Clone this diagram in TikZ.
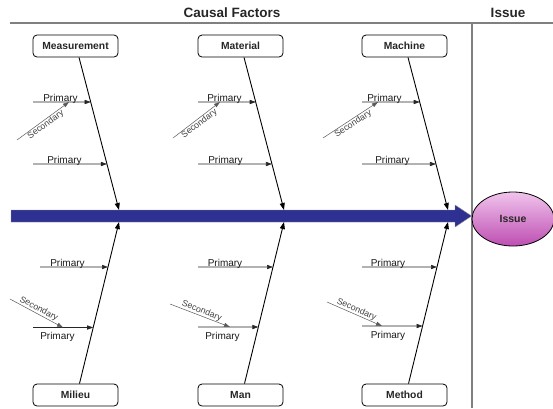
\documentclass[tikz,border=0pt]{standalone}
\usepackage{fontspec}
\setmainfont{Liberation Sans}
\usetikzlibrary{arrows.meta,shapes.geometric}
\definecolor{spineblue}{RGB}{46,49,146}
\definecolor{pinktop}{RGB}{240,196,236}
\definecolor{pinkbot}{RGB}{190,78,178}
\definecolor{rulegray}{RGB}{128,128,128}
\begin{document}
\begin{tikzpicture}[x=1pt,y=-1pt,
  catbox/.style={draw, rounded corners=4pt, line width=0.8pt, minimum width=85pt, minimum height=22pt, inner sep=0pt, font=\fontsize{10.3}{12}\selectfont\bfseries, text=black!85},
  hdr/.style={font=\fontsize{13.5}{16}\selectfont\bfseries, text=black!85, inner sep=0pt},
  bone/.style={line width=0.9pt, -{Triangle[length=7pt,width=5pt]}},
  prim/.style={draw=black!85, line width=0.6pt, -{Triangle[length=6pt,width=4.2pt]}},
  sec/.style={draw=black!65, line width=0.5pt, -{Triangle[length=6pt,width=4pt]}},
  plab/.style={font=\fontsize{10}{12}\selectfont, text=black!90, inner sep=0pt},
  slab/.style={font=\fontsize{8.8}{10}\selectfont, text=black!75, inner sep=0.5pt},
  rule/.style={draw=rulegray, line width=1.1pt}]
\useasboundingbox (0,0) rectangle (553,408);

% headers and rules
\node[hdr] (hcf) at (232,13) {Causal Factors};
\node[hdr] (hiss) at (508,13) {Issue};
\coordinate (hl) at (10,23);
\coordinate (hr) at (553,23);
\coordinate (vt) at (472,23);
\coordinate (vb) at (472,408);
\draw[rule] (hl) -- (hr);
\draw[rule] (vt) -- (vb);

% issue ellipse
\node[ellipse, draw, line width=0.8pt, minimum width=82pt, minimum height=54pt, inner sep=0pt,
      top color=pinktop, bottom color=pinkbot,
      font=\fontsize{10.5}{12}\selectfont\bfseries, text=black!85] (issue) at (513,219) {Issue};

% spine
\coordinate (spinestart) at (11,216);
\filldraw[fill=spineblue, draw=black!45, line width=0.4pt]
  (11,210) -- (455,210) -- (455,205) -- (issue.west |- spinestart) -- (455,227) -- (455,222) -- (11,222) -- cycle;

% category boxes
\node[catbox] (meas) at (75.5,46) {Measurement};
\node[catbox] (mat)  at (240.5,46) {Material};
\node[catbox] (mach) at (404.5,46) {Machine};
\node[catbox] (mil)  at (75.5,395) {Milieu};
\node[catbox] (man)  at (240.5,395) {Man};
\node[catbox] (meth) at (404.5,395) {Method};

% bone ends
\coordinate (m1) at ([xshift=3.5pt]meas.south);
\coordinate (m2) at ([xshift=3.5pt]mat.south);
\coordinate (m3) at ([xshift=3.5pt]mach.south);
\coordinate (n1) at ([xshift=4pt]mil.north);
\coordinate (n2) at ([xshift=4pt]man.north);
\coordinate (n3) at ([xshift=4pt]meth.north);
\coordinate (t1) at (119,210);
\coordinate (t2) at (284,210);
\coordinate (t3) at (448,210);
\coordinate (b1) at (119,222);
\coordinate (b2) at (284,222);
\coordinate (b3) at (448,222);

\draw[bone] (m1) -- (t1);
\draw[bone] (m2) -- (t2);
\draw[bone] (m3) -- (t3);
\draw[bone] (n1) -- (b1);
\draw[bone] (n2) -- (b2);
\draw[bone] (n3) -- (b3);

% ---- upper column 1
\coordinate (pa1) at (33,102);
\coordinate (pb1) at (33,164);
\draw[prim] (pa1) -- (intersection of m1--t1 and 33,102--90,102);
\draw[prim] (pb1) -- (intersection of m1--t1 and 33,164--90,164);
\node[plab, anchor=base] (la1) at (60.5,101) {Primary};
\node[plab, anchor=base] (lb1) at (64.5,163) {Primary};
\coordinate (sa1) at (17,140);
\coordinate (se1) at (69,102);
\draw[sec] (sa1) -- node[slab, sloped, below, pos=0.5] (sl1) {Secondary} (se1);

% ---- upper column 2
\coordinate (pa2) at (198,102);
\coordinate (pb2) at (198,164);
\draw[prim] (pa2) -- (intersection of m2--t2 and 198,102--250,102);
\draw[prim] (pb2) -- (intersection of m2--t2 and 198,164--250,164);
\node[plab, anchor=base] (la2) at (224.5,101) {Primary};
\node[plab, anchor=base] (lb2) at (225.5,163) {Primary};
\coordinate (sa2) at (173,138);
\coordinate (se2) at (220,102);
\draw[sec] (sa2) -- node[slab, sloped, below, pos=0.5] (sl2) {Secondary} (se2);

% ---- upper column 3
\coordinate (pa3) at (362,102);
\coordinate (pb3) at (362,164);
\draw[prim] (pa3) -- (intersection of m3--t3 and 362,102--410,102);
\draw[prim] (pb3) -- (intersection of m3--t3 and 362,164--410,164);
\node[plab, anchor=base] (la3) at (384.5,101) {Primary};
\node[plab, anchor=base] (lb3) at (392.5,163) {Primary};
\coordinate (sa3) at (323,138);
\coordinate (se3) at (378,102);
\draw[sec] (sa3) -- node[slab, sloped, below, pos=0.5] (sl3) {Secondary} (se3);

% ---- lower column 1
\coordinate (pc1) at (40,267);
\coordinate (pd1) at (33,327.5);
\draw[prim] (pc1) -- (intersection of n1--b1 and 40,267--90,267);
\draw[prim] (pd1) -- (intersection of n1--b1 and 33,327.5--90,327.5);
\node[plab, anchor=base] (lc1) at (67.5,266) {Primary};
\node[plab, anchor=base] (ld1) at (57.5,339.5) {Primary};
\coordinate (sc1) at (10,299);
\coordinate (sd1) at (63,327.5);
\draw[sec] (sc1) -- node[slab, sloped, above, pos=0.5] (sm1) {Secondary} (sd1);

% ---- lower column 2
\coordinate (pc2) at (198,267);
\coordinate (pd2) at (198,327);
\draw[prim] (pc2) -- (intersection of n2--b2 and 198,267--250,267);
\draw[prim] (pd2) -- (intersection of n2--b2 and 198,327--250,327);
\node[plab, anchor=base] (lc2) at (225,266) {Primary};
\node[plab, anchor=base] (ld2) at (222.5,339) {Primary};
\coordinate (sc2) at (170,304);
\coordinate (sd2) at (230,327);
\draw[sec] (sc2) -- node[slab, sloped, above, pos=0.5] (sm2) {Secondary} (sd2);

% ---- lower column 3
\coordinate (pc3) at (362,267);
\coordinate (pd3) at (362,326);
\draw[prim] (pc3) -- (intersection of n3--b3 and 362,267--410,267);
\draw[prim] (pd3) -- (intersection of n3--b3 and 362,326--410,326);
\node[plab, anchor=base] (lc3) at (388,266) {Primary};
\node[plab, anchor=base] (ld3) at (388,338) {Primary};
\coordinate (sc3) at (327,302);
\coordinate (sd3) at (382,326);
\draw[sec] (sc3) -- node[slab, sloped, above, pos=0.5] (sm3) {Secondary} (sd3);
\end{tikzpicture}
\end{document}
